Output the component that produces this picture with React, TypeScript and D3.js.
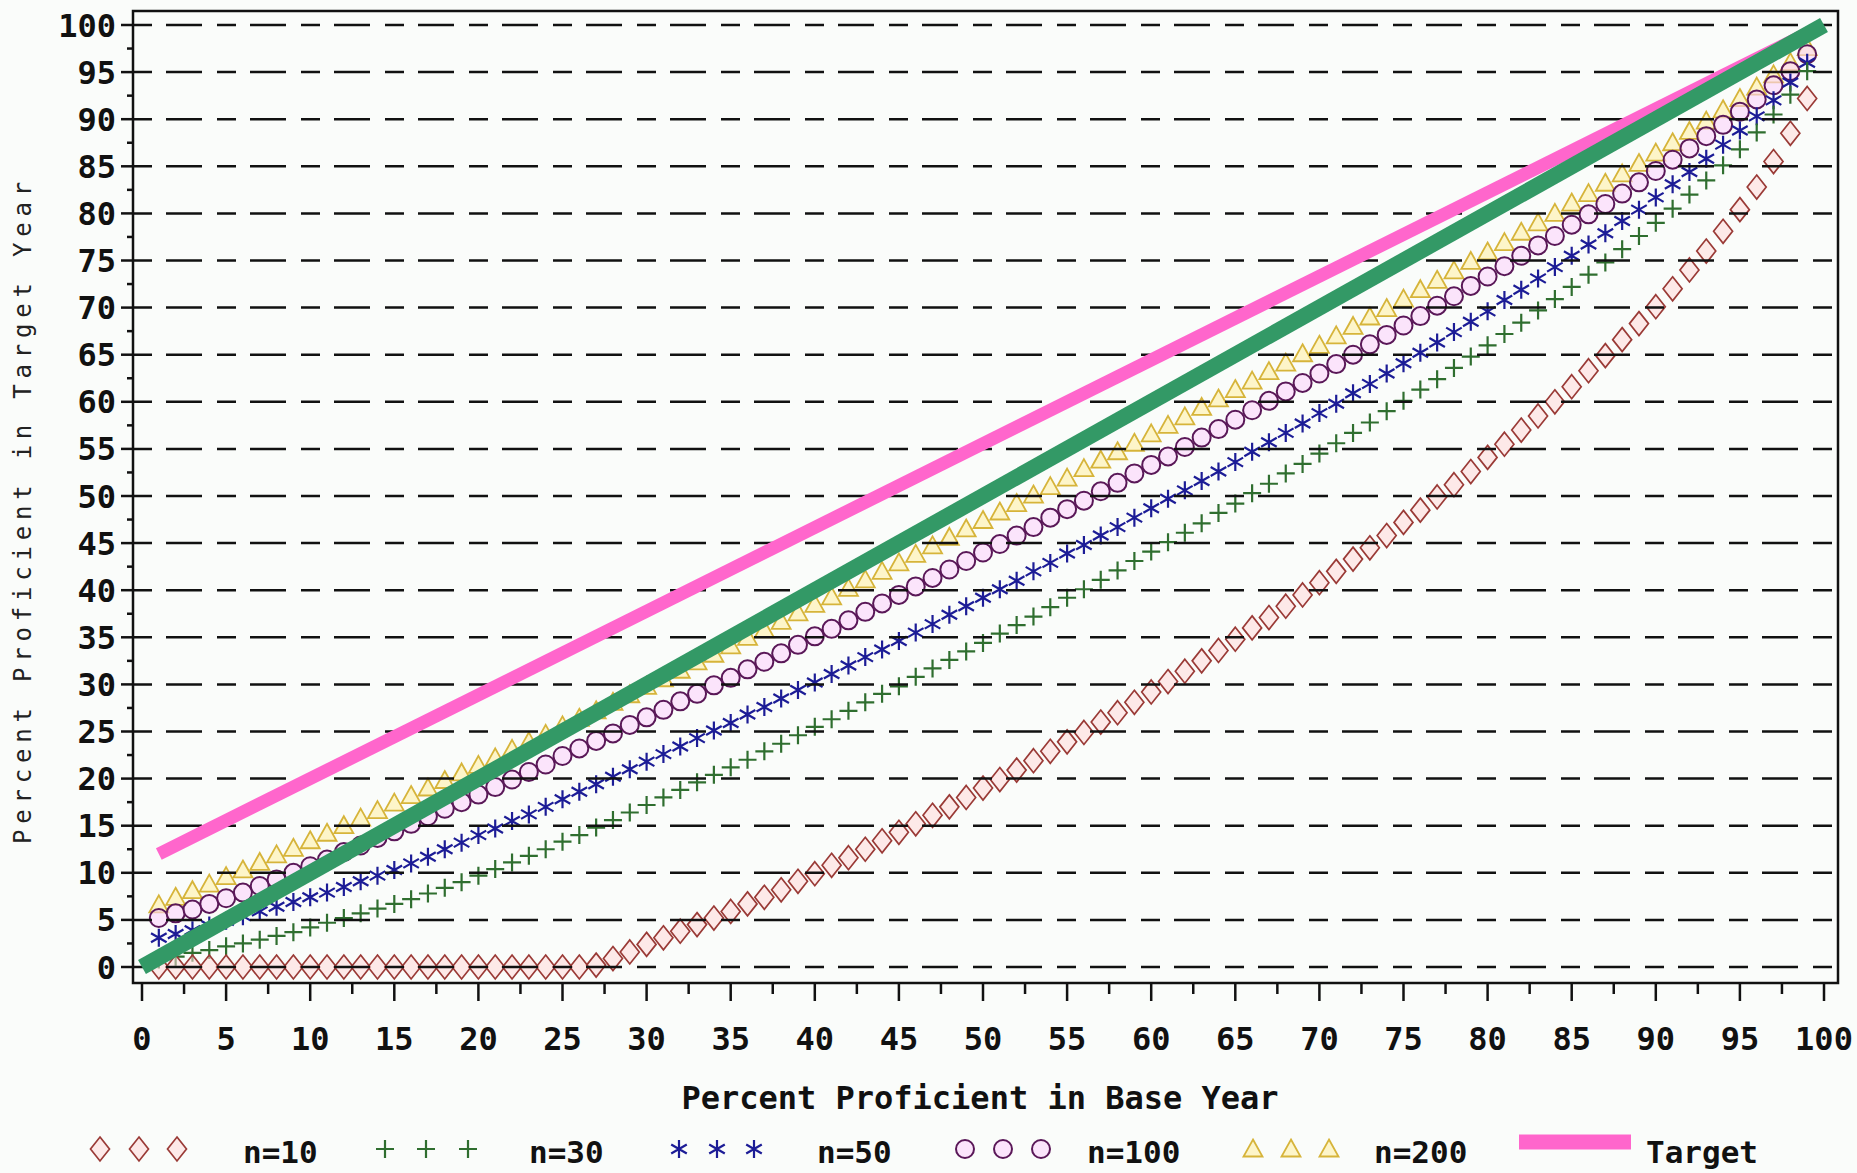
import React from "react";
import * as d3 from "d3";

const BASE_YEAR = [1,2,3,4,5,6,7,8,9,10,11,12,13,14,15,16,17,18,19,20,21,22,23,24,25,26,27,28,29,30,31,32,33,34,35,36,37,38,39,40,41,42,43,44,45,46,47,48,49,50,51,52,53,54,55,56,57,58,59,60,61,62,63,64,65,66,67,68,69,70,71,72,73,74,75,76,77,78,79,80,81,82,83,84,85,86,87,88,89,90,91,92,93,94,95,96,97,98,99];

const N10 = [0,0,0,0,0,0,0,0,0,0,0,0,0,0,0,0,0,0,0,0,0,0,0,0,0,0,0.2,0.9,1.6,2.4,3.1,3.8,4.5,5.2,5.9,6.7,7.4,8.2,9.1,9.9,10.8,11.6,12.5,13.4,14.3,15.2,16.1,17.0,18.0,19.0,19.9,20.9,21.9,22.9,23.9,24.9,26.0,27.0,28.1,29.2,30.3,31.4,32.5,33.6,34.8,36.0,37.1,38.3,39.5,40.8,42.0,43.3,44.5,45.8,47.2,48.5,49.9,51.2,52.6,54.1,55.5,57.0,58.5,60.0,61.6,63.3,64.9,66.6,68.3,70.1,72.0,74.0,76.0,78.1,80.4,82.8,85.5,88.5,92.2];

const N30 = [0.8,1.1,1.5,1.8,2.2,2.5,2.9,3.3,3.7,4.2,4.7,5.2,5.7,6.2,6.7,7.2,7.8,8.4,9.0,9.7,10.4,11.1,11.8,12.5,13.3,14.0,14.8,15.6,16.4,17.2,18.0,18.8,19.6,20.4,21.2,22.0,22.9,23.7,24.6,25.5,26.3,27.2,28.1,29.0,29.8,30.8,31.7,32.6,33.5,34.4,35.4,36.3,37.2,38.2,39.2,40.1,41.1,42.1,43.1,44.1,45.1,46.1,47.1,48.2,49.2,50.3,51.3,52.4,53.4,54.5,55.6,56.7,57.8,59.0,60.1,61.3,62.4,63.6,64.8,66.0,67.2,68.4,69.7,70.9,72.2,73.5,74.8,76.2,77.6,79.0,80.5,82.0,83.5,85.1,86.8,88.6,90.5,92.6,95.1];

const N50 = [3.1,3.5,3.9,4.4,4.9,5.4,5.9,6.4,6.9,7.4,7.9,8.5,9.1,9.7,10.3,11.0,11.7,12.5,13.2,14.0,14.7,15.5,16.2,17.0,17.8,18.6,19.4,20.2,21.0,21.8,22.6,23.4,24.3,25.1,25.9,26.8,27.6,28.5,29.4,30.2,31.1,32.0,32.9,33.7,34.6,35.5,36.4,37.4,38.3,39.2,40.1,41.0,42.0,42.9,43.9,44.8,45.8,46.7,47.7,48.7,49.7,50.6,51.6,52.6,53.6,54.7,55.7,56.7,57.7,58.8,59.8,60.9,61.9,63.0,64.1,65.2,66.3,67.4,68.5,69.6,70.8,71.9,73.1,74.3,75.5,76.7,77.9,79.2,80.4,81.7,83.1,84.4,85.8,87.3,88.8,90.3,92.0,93.9,96.0];

const N100 = [5.2,5.7,6.1,6.7,7.3,7.9,8.6,9.3,10.0,10.7,11.4,12.2,12.9,13.7,14.4,15.2,16.0,16.8,17.5,18.3,19.1,19.9,20.7,21.5,22.4,23.2,24.0,24.8,25.7,26.5,27.3,28.2,29.0,29.9,30.7,31.6,32.4,33.3,34.2,35.1,35.9,36.8,37.7,38.6,39.5,40.4,41.3,42.2,43.1,44.0,44.9,45.8,46.7,47.7,48.6,49.5,50.5,51.4,52.4,53.3,54.2,55.2,56.2,57.1,58.1,59.1,60.1,61.1,62.0,63.0,64.0,65.0,66.1,67.1,68.1,69.1,70.2,71.2,72.3,73.3,74.4,75.5,76.6,77.6,78.8,79.9,81.0,82.1,83.3,84.5,85.7,86.9,88.2,89.4,90.8,92.1,93.6,95.1,96.9];

const N200 = [6.6,7.4,8.1,8.8,9.6,10.3,11.1,11.9,12.6,13.4,14.2,15.0,15.8,16.6,17.4,18.2,19.0,19.8,20.6,21.4,22.2,23.1,23.9,24.7,25.6,26.4,27.2,28.1,28.9,29.8,30.6,31.5,32.4,33.2,34.1,35.0,35.8,36.7,37.6,38.5,39.3,40.2,41.1,42.0,42.9,43.8,44.7,45.6,46.5,47.4,48.3,49.2,50.1,51.0,51.9,52.9,53.8,54.7,55.6,56.6,57.5,58.4,59.4,60.3,61.3,62.2,63.2,64.1,65.1,66.0,67.0,68.0,69.0,69.9,70.9,71.9,72.9,73.9,74.9,75.9,76.9,78.0,79.0,80.0,81.1,82.1,83.2,84.2,85.3,86.4,87.5,88.7,89.8,91.0,92.2,93.4,94.7,96.0,97.6];

const TARGET_X = [1, 99];
const TARGET_Y = [12.0, 99.1];
const EQUAL_X = [0, 100];
const EQUAL_Y = [0, 100];

const X_TICKS = [0,5,10,15,20,25,30,35,40,45,50,55,60,65,70,75,80,85,90,95,100];
const Y_TICKS = [0,5,10,15,20,25,30,35,40,45,50,55,60,65,70,75,80,85,90,95,100];
const MINOR_TICKS = [2.5,7.5,12.5,17.5,22.5,27.5,32.5,37.5,42.5,47.5,52.5,57.5,62.5,67.5,72.5,77.5,82.5,87.5,92.5,97.5];

const SERIES_LABELS = ["n=10", "n=30", "n=50", "n=100", "n=200"];
const TARGET_LABEL = "Target";
const X_TITLE = "Percent Proficient in Base Year";
const Y_TITLE = "Percent Proficient in Target Year";

const W = 1857, H = 1173;
const FRAME = { l: 133, r: 1838, t: 11, b: 983 };
const FONT = "'DejaVu Sans Mono', monospace";

const x = d3.scaleLinear().domain([0, 100]).range([142, 1824]);
const y = d3.scaleLinear().domain([0, 100]).range([967, 25]);

type Kind = "diamond" | "plus" | "star" | "circle" | "triangle";

function Marker({ kind, cx, cy }: { kind: Kind; cx: number; cy: number }) {
  if (kind === "diamond") {
    return <path d={`M${cx},${cy - 12}L${cx + 9.5},${cy}L${cx},${cy + 12}L${cx - 9.5},${cy}Z`} fill="#ffd8d8" fillOpacity={0.55} stroke="#9a3a36" strokeWidth={1.7} />;
  }
  if (kind === "plus") {
    return <path d={`M${cx - 9},${cy}H${cx + 9}M${cx},${cy - 9}V${cy + 9}`} stroke="#2f6e2f" strokeWidth={2.2} fill="none" />;
  }
  if (kind === "star") {
    const r = 9;
    const segs = [90, 30, 150].map((a) => {
      const rad = (a * Math.PI) / 180;
      const dx = r * Math.cos(rad), dy = r * Math.sin(rad);
      return `M${cx - dx},${cy - dy}L${cx + dx},${cy + dy}`;
    });
    return <path d={segs.join("")} stroke="#1c1c96" strokeWidth={2.2} fill="none" />;
  }
  if (kind === "circle") {
    return <circle cx={cx} cy={cy} r={9} fill="#fbd4fb" fillOpacity={0.6} stroke="#5a1858" strokeWidth={2} />;
  }
  return <path d={`M${cx},${cy - 9.5}L${cx + 9.5},${cy + 7.5}L${cx - 9.5},${cy + 7.5}Z`} fill="#fff0a8" fillOpacity={0.6} stroke="#d6b43a" strokeWidth={1.8} />;
}

const SERIES: { values: number[]; kind: Kind }[] = [
  { values: N200, kind: "triangle" },
  { values: N100, kind: "circle" },
  { values: N50, kind: "star" },
  { values: N30, kind: "plus" },
  { values: N10, kind: "diamond" },
];

const LEGEND_KINDS: Kind[] = ["diamond", "plus", "star", "circle", "triangle"];
const LEGEND_MARK_X = [[100, 139, 177], [385, 426, 468], [679, 717, 754], [965, 1003, 1041], [1253, 1291, 1329]];
const LEGEND_TEXT_X = [243, 529, 817, 1087, 1374];

export default function App() {
  const targetPath = d3.line<number>().x((_, i) => x(TARGET_X[i])).y((_, i) => y(TARGET_Y[i]))(TARGET_X) || "";
  const equalPath = d3.line<number>().x((_, i) => x(EQUAL_X[i])).y((_, i) => y(EQUAL_Y[i]))(EQUAL_X) || "";

  return (
    <svg width={W} height={H} style={{ position: "absolute", left: 0, top: 0, background: "#fafcfa" }}>
      <rect x={0} y={0} width={W} height={H} fill="#fafcfa" />
      {SERIES.map((s, si) => (
        <g key={si}>
          {s.values.map((v, i) => (
            <Marker key={i} kind={s.kind} cx={x(BASE_YEAR[i])} cy={y(v)} />
          ))}
        </g>
      ))}
      {Y_TICKS.map((t) => (
        <line key={`g${t}`} x1={FRAME.l} x2={1832} y1={y(t)} y2={y(t)} stroke="#111" strokeWidth={2.5} strokeDasharray="19,14,36,15" />
      ))}
      <rect x={FRAME.l} y={FRAME.t} width={FRAME.r - FRAME.l} height={FRAME.b - FRAME.t} fill="none" stroke="#111" strokeWidth={2.5} />
      {Y_TICKS.map((t) => (
        <line key={`yt${t}`} x1={FRAME.l - 12} x2={FRAME.l} y1={y(t)} y2={y(t)} stroke="#111" strokeWidth={2.5} />
      ))}
      {MINOR_TICKS.map((t) => (
        <line key={`ym${t}`} x1={FRAME.l - 6} x2={FRAME.l} y1={y(t)} y2={y(t)} stroke="#111" strokeWidth={2.5} />
      ))}
      {Y_TICKS.map((t) => (
        <text key={`yl${t}`} x={116} y={y(t) + 11.5} textAnchor="end" fontFamily={FONT} fontWeight="bold" fontSize={32} fill="#111">{t}</text>
      ))}
      {X_TICKS.map((t) => (
        <line key={`xt${t}`} x1={x(t)} x2={x(t)} y1={FRAME.b} y2={FRAME.b + 18} stroke="#111" strokeWidth={2.5} />
      ))}
      {MINOR_TICKS.map((t) => (
        <line key={`xm${t}`} x1={x(t)} x2={x(t)} y1={FRAME.b} y2={FRAME.b + 11} stroke="#111" strokeWidth={2.5} />
      ))}
      {X_TICKS.map((t) => (
        <text key={`xl${t}`} x={x(t)} y={1050} textAnchor="middle" fontFamily={FONT} fontWeight="bold" fontSize={32} fill="#111">{t}</text>
      ))}
      <path d={targetPath} stroke="#ff66cc" strokeWidth={13} fill="none" strokeLinecap="butt" />
      <path d={equalPath} stroke="#339966" strokeWidth={16} fill="none" strokeLinecap="butt" />
      <text x={980} y={1109} textAnchor="middle" fontFamily={FONT} fontWeight="bold" fontSize={32} fill="#111">{X_TITLE}</text>
      <text transform="translate(31,510) rotate(-90)" textAnchor="middle" fontFamily={FONT} fontSize={24} letterSpacing={5.8} fill="#222">{Y_TITLE}</text>
      {LEGEND_KINDS.map((k, i) => (
        <g key={`lg${i}`}>
          {LEGEND_MARK_X[i].map((mx, j) => (
            <Marker key={j} kind={k} cx={mx} cy={1149} />
          ))}
          <text x={LEGEND_TEXT_X[i]} y={1163} fontFamily={FONT} fontWeight="bold" fontSize={31} fill="#111">{SERIES_LABELS[i]}</text>
        </g>
      ))}
      <line x1={1519} x2={1631} y1={1142} y2={1142} stroke="#ff66cc" strokeWidth={15} />
      <text x={1646} y={1163} fontFamily={FONT} fontWeight="bold" fontSize={31} fill="#111">{TARGET_LABEL}</text>
    </svg>
  );
}
